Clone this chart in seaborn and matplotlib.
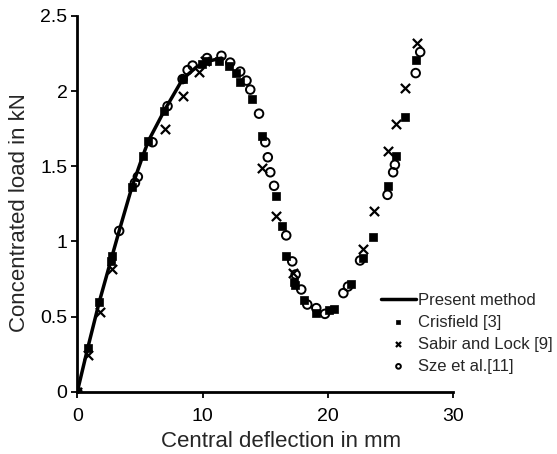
import seaborn as sns
import matplotlib.pyplot as plt
import pandas as pd

# Present method (solid curve)
present_x = [0, 0.83, 1.76, 2.8, 3.34, 4.35, 5.23, 5.68, 6.94, 8.4, 9.5, 10.5, 11.5]
present_y = [0, 0.29, 0.6, 0.91, 1.07, 1.36, 1.57, 1.67, 1.87, 2.08, 2.16, 2.2, 2.22]

# Crisfield [3]
cris_x = [0, 0.83, 1.76, 2.7, 2.8, 4.35, 5.23, 5.68, 6.94, 8.4, 9.95, 10.35, 11.28, 12.08,
          12.7, 13.0, 13.9, 14.75, 15.87, 16.3, 16.67, 17.28, 17.36, 18.08, 19.07, 20.1,
          20.5, 21.87, 22.83, 23.63, 24.83, 25.42, 26.14, 27.04]
cris_y = [0, 0.29, 0.6, 0.87, 0.905, 1.36, 1.57, 1.67, 1.87, 2.08, 2.18, 2.2, 2.2, 2.17,
          2.12, 2.06, 1.95, 1.70, 1.30, 1.10, 0.905, 0.73, 0.71, 0.61, 0.526, 0.545,
          0.55, 0.718, 0.89, 1.03, 1.37, 1.57, 1.83, 2.21]

# Sabir and Lock [9]
sabir_x = [0, 0.88, 1.8, 2.75, 6.96, 8.43, 9.7, 10.2, 14.75, 15.82, 17.23, 22.83, 23.65,
           24.8, 25.42, 26.14, 27.07]
sabir_y = [0, 0.245, 0.533, 0.816, 1.75, 1.97, 2.13, 2.2, 1.49, 1.17, 0.79, 0.95, 1.20,
           1.60, 1.78, 2.02, 2.32]

# Sze et al.[11]
sze_x = [0, 3.34, 4.6, 4.83, 6.0, 7.2, 8.4, 8.8, 9.2, 10.35, 11.5, 12.2, 13.0, 13.5, 13.8,
         14.5, 15.0, 15.2, 15.4, 15.7, 16.67, 17.15, 17.42, 17.87, 18.35, 19.07, 19.76,
         21.23, 21.6, 22.56, 24.75, 25.2, 25.34, 27.0, 27.36]
sze_y = [0, 1.07, 1.39, 1.43, 1.66, 1.90, 2.08, 2.14, 2.17, 2.22, 2.235, 2.19, 2.13, 2.07,
         2.01, 1.85, 1.66, 1.56, 1.46, 1.37, 1.04, 0.867, 0.78, 0.68, 0.58, 0.556, 0.518,
         0.656, 0.70, 0.873, 1.31, 1.46, 1.51, 2.12, 2.26]

sns.set_style("ticks")
plt.rcParams['font.family'] = ['Liberation Sans', 'DejaVu Sans']
plt.rcParams['font.size'] = 12

fig = plt.figure(figsize=(5.57, 4.54), dpi=100)
ax = fig.add_axes([0.1388, 0.1372, 0.6750, 0.8276])

sns.lineplot(x=present_x, y=present_y, ax=ax, color='black', linewidth=2.5,
             label='Present method', sort=False, estimator=None)
sns.scatterplot(x=cris_x, y=cris_y, ax=ax, marker='s', color='black', s=32,
                edgecolor='black', linewidth=0.5, label='Crisfield [3]', zorder=3)
sns.scatterplot(x=sabir_x, y=sabir_y, ax=ax, marker='x', color='black', s=44,
                linewidth=1.6, label='Sabir and Lock [9]', zorder=3)
sns.scatterplot(x=sze_x, y=sze_y, ax=ax, marker='o', facecolor='none', edgecolor='black',
                s=38, linewidth=1.4, label='Sze et al.[11]', zorder=3)

ax.set_xlim(0, 30)
ax.set_ylim(0, 2.5)
ax.set_xticks([0, 10, 20, 30])
ax.set_yticks([0, 0.5, 1, 1.5, 2, 2.5])
ax.set_yticklabels(['0', '0.5', '1', '1.5', '2', '2.5'])
ax.set_xlabel('Central deflection in mm', fontsize=16)
ax.set_ylabel('Concentrated load in kN', fontsize=16)
ax.xaxis.set_label_coords(0.542, -0.105)
ax.yaxis.set_label_coords(-0.125, 0.478)
ax.tick_params(direction='out', length=4, width=1.3, labelsize=14, colors='black', pad=3)
ax.tick_params(axis='x', pad=8)
for side in ['left', 'bottom']:
    ax.spines[side].set_linewidth(2)
    ax.spines[side].set_color('black')
sns.despine(ax=ax)

ax.legend(loc='center left', bbox_to_anchor=(0.684, 0.266), bbox_transform=fig.transFigure,
          frameon=False, fontsize=12, handlelength=2.1, handletextpad=0.1,
          labelspacing=0.42, markerscale=0.55, borderpad=0, borderaxespad=0)

fig.savefig('out.png', dpi=100)
